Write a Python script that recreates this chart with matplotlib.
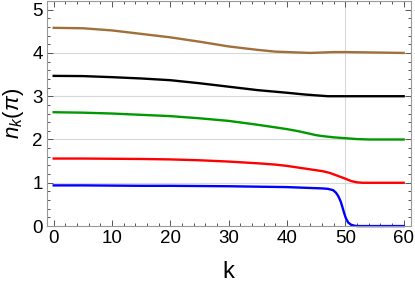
import matplotlib
matplotlib.use("Agg")
import matplotlib.pyplot as plt
from matplotlib.ticker import MultipleLocator

plt.rcParams['font.family'] = ['Liberation Sans', 'DejaVu Sans']
plt.rcParams['mathtext.fontset'] = 'custom'
plt.rcParams['mathtext.it'] = 'Liberation Sans:italic'
plt.rcParams['mathtext.rm'] = 'Liberation Sans'

# values
k_blue = [0, 5, 10, 15, 20, 25, 30, 35, 40, 42, 44, 46, 47, 47.9, 48.4, 48.8, 49.2, 49.5, 49.8, 50.1, 50.5, 51.0, 51.5, 52, 54, 56, 58, 60]
n_blue = [0.94, 0.94, 0.935, 0.93, 0.93, 0.925, 0.92, 0.91, 0.90, 0.89, 0.88, 0.87, 0.86, 0.83, 0.77, 0.69, 0.57, 0.44, 0.30, 0.18, 0.08, 0.03, 0.01, 0.0, 0.0, 0.0, 0.0, 0.0]

k_red = [0, 5, 10, 15, 20, 25, 30, 35, 38, 40, 42, 44, 46, 47.3, 48.5, 49.9, 51, 52, 53, 55, 58, 60]
n_red = [1.56, 1.56, 1.555, 1.55, 1.54, 1.52, 1.49, 1.45, 1.42, 1.39, 1.35, 1.31, 1.27, 1.23, 1.17, 1.10, 1.04, 1.01, 1.0, 1.0, 1.0, 1.0]

k_green = [0, 5, 10, 15, 20, 25, 30, 35, 38, 40, 42, 44, 45, 46, 48, 50, 52, 54, 56, 58, 60]
n_green = [2.63, 2.62, 2.60, 2.57, 2.54, 2.49, 2.43, 2.34, 2.28, 2.24, 2.19, 2.13, 2.10, 2.08, 2.05, 2.03, 2.01, 2.0, 2.0, 2.0, 2.0]

k_black = [0, 5, 10, 15, 20, 25, 30, 35, 40, 43, 45, 47, 50, 55, 60]
n_black = [3.47, 3.465, 3.44, 3.41, 3.37, 3.30, 3.22, 3.14, 3.08, 3.04, 3.02, 3.0, 3.0, 3.0, 3.0]

k_brown = [0, 5, 10, 15, 20, 25, 30, 35, 38, 40, 42, 44, 46, 48, 50, 55, 60]
n_brown = [4.58, 4.57, 4.52, 4.44, 4.36, 4.26, 4.15, 4.07, 4.03, 4.02, 4.01, 4.0, 4.01, 4.02, 4.02, 4.01, 4.0]

series = [
    (k_blue, n_blue, '#0000ff'),
    (k_red, n_red, '#ff0000'),
    (k_green, n_green, '#009900'),
    (k_black, n_black, '#000000'),
    (k_brown, n_brown, '#a0703a'),
]

fig = plt.figure(figsize=(4.15, 2.84), dpi=100)
ax = fig.add_axes([0.1125, 0.204, 0.877, 0.7925])

for y in [1, 2, 3, 4]:
    ax.axhline(y, color='#d8d8d8', lw=0.8, zorder=0)
ax.axvline(50, color='#d8d8d8', lw=0.8, zorder=0)

for k, n, c in series:
    ax.plot(k, n, color=c, lw=1.7, clip_on=False)

ax.set_xlim(-1.2, 61.2)
ax.set_ylim(0, 5.2)
ax.xaxis.set_major_locator(MultipleLocator(10))
ax.xaxis.set_minor_locator(MultipleLocator(2))
ax.yaxis.set_major_locator(MultipleLocator(1))
ax.yaxis.set_minor_locator(MultipleLocator(0.2))

for s in ax.spines.values():
    s.set_color('#999999')
    s.set_linewidth(0.8)
ax.tick_params(which='both', direction='in', top=True, right=True, color='#555555', width=0.7)
ax.tick_params(which='major', length=4, labelsize=13.5, pad=3)
ax.tick_params(which='minor', length=2)

ax.set_xlabel('k', fontsize=17, labelpad=10)
ax.set_ylabel(r'$n_k(\pi)$', fontsize=16, labelpad=4)

fig.savefig('out.png', dpi=100)
